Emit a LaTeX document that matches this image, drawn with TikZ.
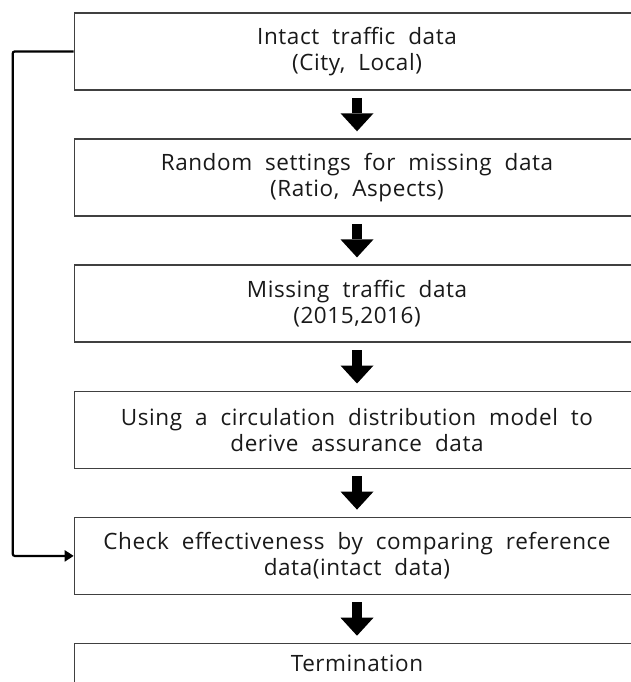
\documentclass[tikz,border=0pt]{standalone}
\usepackage{fontspec}
\setmainfont{Open Sans}[LetterSpace=2.5]
\usetikzlibrary{arrows.meta, positioning}
\newcommand\stepfont{\fontsize{22.5}{26}\selectfont\spaceskip=13pt plus 1pt minus 1pt\relax}

\begin{document}
\begin{tikzpicture}[
    x=1pt, y=-1pt,
    node distance = 47.5pt,
    every node/.style = {align=center},
    stepbox/.style = {draw=black!75, line width=1.6pt, minimum width=565pt,
                      minimum height=77pt, inner sep=0pt, text=black!90,
                      font=\stepfont},
    bigarr/.style  = {line width=10pt, shorten <=7pt, shorten >=7pt,
                      -{Triangle[length=18pt, width=33pt, line width=0pt]}},
    fbarr/.style   = {line width=2.2pt, rounded corners=2pt,
                      -{Triangle[length=9pt, width=11pt]}},
]
\useasboundingbox (0,0) rectangle (631,682);
\clip (0,0) rectangle (631,682);

%% Steps
\node[stepbox] (intact) at (357,51.5) {Intact traffic data\\(City, Local)};
\node[stepbox, below=of intact] (rand) {Random settings for missing data\\(Ratio, Aspects)};
\node[stepbox, below=of rand]   (miss) {Missing traffic data\\(2015,2016)};
\node[stepbox, below=of miss]   (model) {Using a circulation distribution model to\\derive assurance data};
\node[stepbox, below=of model]  (check) {Check effectiveness by comparing reference\\data(intact data)};
\node[stepbox, below=of check, minimum height=40pt] (term) {Termination};

%% Block arrows
\draw[bigarr] (intact) -- (rand);
\draw[bigarr] (rand)   -- (miss);
\draw[bigarr] (miss)   -- (model);
\draw[bigarr] (model)  -- (check);
\draw[bigarr] (check)  -- (term);

%% Feedback of the intact data
\draw[fbarr] (intact.west) -- ++(-61,0) |- (check.west);

\end{tikzpicture}
\end{document}
